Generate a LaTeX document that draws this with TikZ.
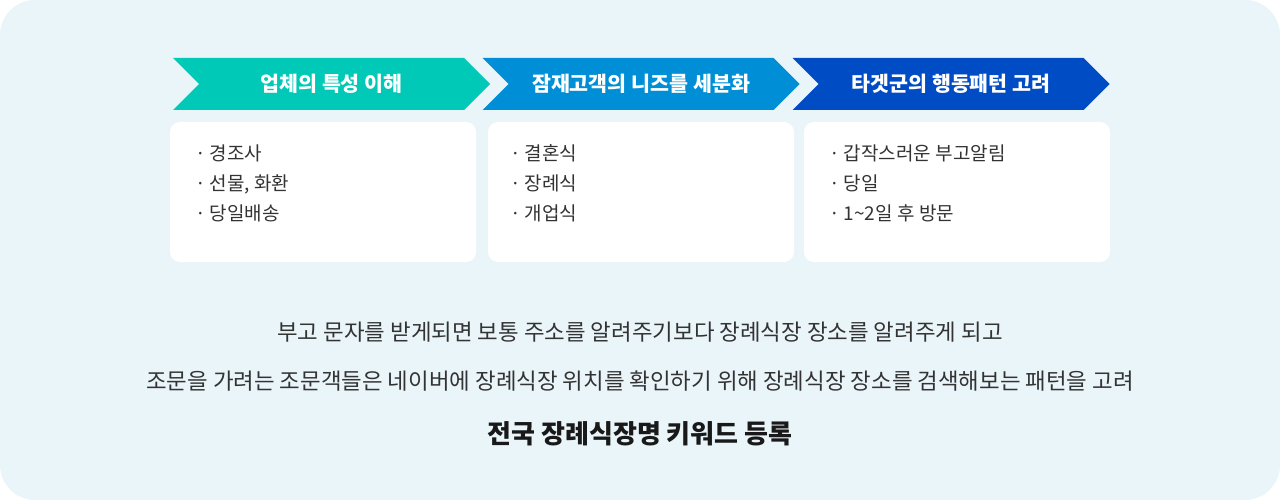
\documentclass[tikz,border=0pt]{standalone}
\usepackage{fontspec}
\setmainfont{Noto Sans CJK KR}
\usetikzlibrary{shapes.symbols,positioning}
\definecolor{panelbg}{HTML}{EAF5FA}
\definecolor{stepteal}{HTML}{00C9B7}
\definecolor{stepblue}{HTML}{008FD6}
\definecolor{stepnavy}{HTML}{004CC4}
\definecolor{bodytext}{HTML}{333333}

\begin{document}
\begin{tikzpicture}[x=1pt,y=-1pt,
    chevron/.style={signal,signal from=west,signal to=east,inner sep=0pt,
      minimum width=317pt,minimum height=52pt,text=white,
      font=\fontsize{20.6}{24}\selectfont\bfseries},
    card/.style={fill=white,rounded corners=10pt,minimum width=306pt,minimum height=140pt},
    items/.style={anchor=north west,align=left,text=bodytext,inner sep=0pt,
      font=\fontsize{19}{30}\selectfont},
    note/.style={text=bodytext,inner sep=0pt,font=\fontsize{22.4}{26}\selectfont}]
  \useasboundingbox (0,0) rectangle (1280,500);
  \fill[panelbg,rounded corners=35pt] (0,0) rectangle (1280,500);

  % steps
  \node (stepa) [chevron,fill=stepteal] at (331.5,84) {업체의 특성 이해};
  \node (stepb) [chevron,fill=stepblue] at (641,84) {잠재고객의 니즈를 세분화};
  \node (stepc) [chevron,fill=stepnavy] at (951,84) {타겟군의 행동패턴 고려};

  % cards
  \node (carda) [card] at (323,192) {};
  \node (cardb) [card] at (641,192) {};
  \node (cardc) [card] at (957,192) {};
  \node (lista) [items] at ([xshift=25pt,yshift=-23pt]carda.north west) {· 경조사\\· 선물, 화환\\· 당일배송};
  \node (listb) [items] at ([xshift=22pt,yshift=-23pt]cardb.north west) {· 결혼식\\· 장례식\\· 개업식};
  \node (listc) [items] at ([xshift=25pt,yshift=-23pt]cardc.north west) {· 갑작스러운 부고알림\\· 당일\\· 1\textasciitilde 2일 후 방문};

  % summary
  \node (notea) [note] at (640,332) {부고 문자를 받게되면 보통 주소를 알려주기보다 장례식장 장소를 알려주게 되고};
  \node (noteb) [note] at (640,381) {조문을 가려는 조문객들은 네이버에 장례식장 위치를 확인하기 위해 장례식장 장소를 검색해보는 패턴을 고려};
  \node (result) [note,text=black!90,font=\fontsize{26}{30}\selectfont\bfseries] at (640,434) {전국 장례식장명 키워드 등록};
\end{tikzpicture}
\end{document}
